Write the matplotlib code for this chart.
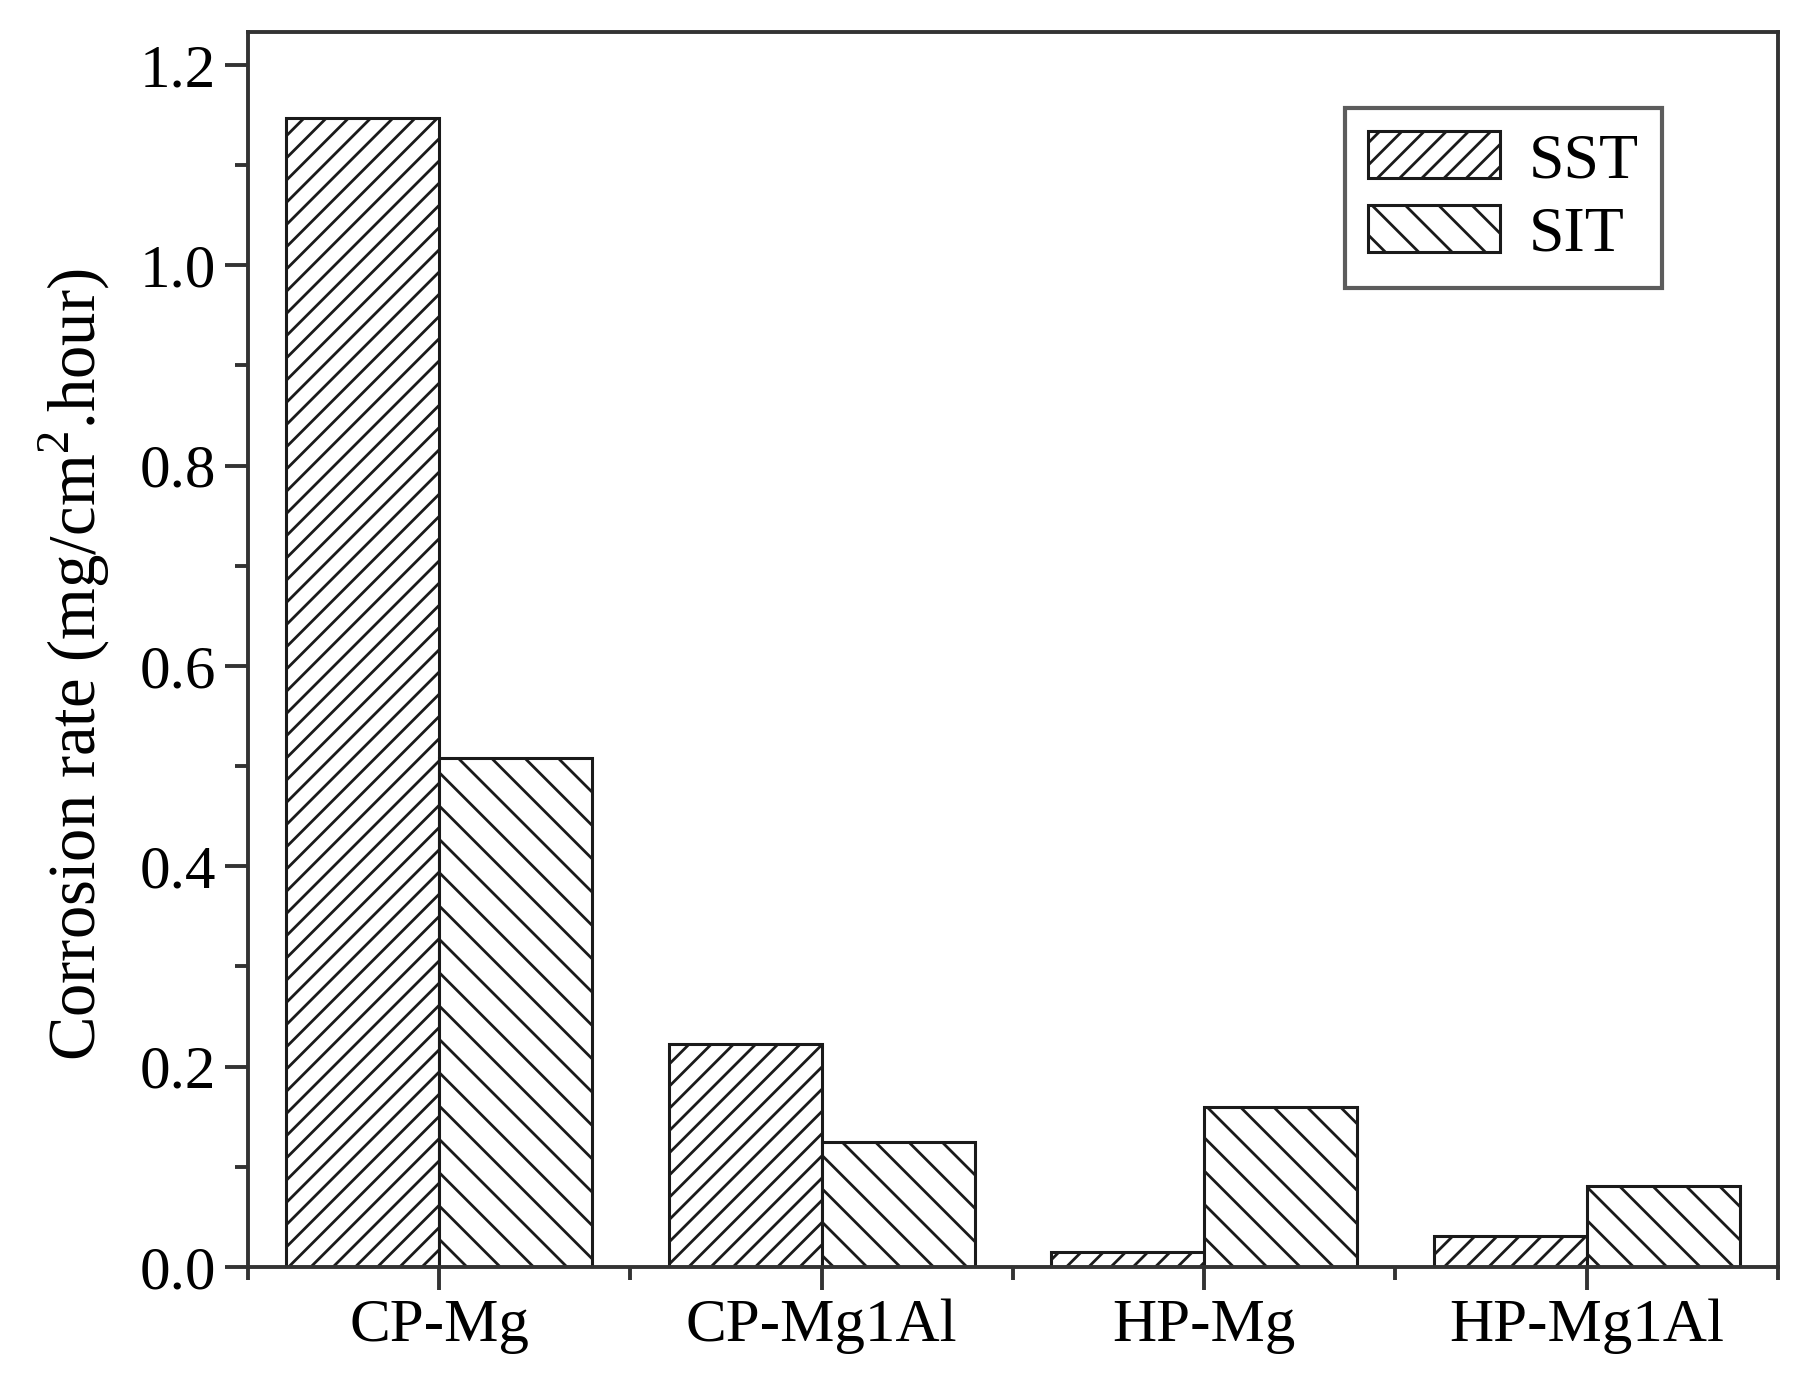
import numpy as np
import matplotlib
matplotlib.use("Agg")
import matplotlib.pyplot as plt
from matplotlib.ticker import MultipleLocator

# data
samples = ["CP-Mg", "CP-Mg1Al", "HP-Mg", "HP-Mg1Al"]
sst = [1.147, 0.223, 0.015, 0.031]
sit = [0.508, 0.125, 0.160, 0.081]
series_names = ["SST", "SIT"]

plt.rcParams["font.family"] = ["Liberation Serif", "DejaVu Serif"]
plt.rcParams["mathtext.fontset"] = "custom"
plt.rcParams["mathtext.rm"] = "Liberation Serif"
plt.rcParams["hatch.linewidth"] = 1.0

# hatch tile is one inch, so dpi sets the hatch spacing
DPI = 200
fig = plt.figure(figsize=(1807 / DPI, 1388 / DPI), dpi=DPI)
ax = fig.add_axes([0.1372, 0.0872, 0.8467, 0.8898])

x = np.arange(len(samples))
w = 0.4
ax.bar(x - w / 2, sst, w, color="white", edgecolor="#1a1a1a", linewidth=1.1,
       hatch="///", label=series_names[0])
ax.bar(x + w / 2, sit, w, color="white", edgecolor="#1a1a1a", linewidth=1.1,
       hatch="\\\\", label=series_names[1])

ax.set_xlim(-0.5, 3.5)
ax.set_ylim(0, 1.233)
ax.set_xticks(x)
ax.set_xticklabels(samples)
ax.xaxis.set_minor_locator(MultipleLocator(0.5))
ax.yaxis.set_major_locator(MultipleLocator(0.2))
ax.yaxis.set_minor_locator(MultipleLocator(0.1))
ax.yaxis.set_major_formatter(plt.FormatStrFormatter("%.1f"))

for s in ax.spines.values():
    s.set_linewidth(1.4)
    s.set_color("#333333")

ax.tick_params(which="major", direction="out", length=8.4, width=1.4,
               color="#333333", labelsize=22, pad=3)
ax.tick_params(which="minor", direction="out", length=4.6, width=1.4,
               color="#333333")
ax.tick_params(top=False, right=False, which="both")

ax.set_ylabel("Corrosion rate (mg/cm$^2$.hour)", fontsize=24, labelpad=10)
ax.yaxis.label.set_y(0.488)

leg = ax.legend(loc="upper right", bbox_to_anchor=(0.924, 0.938),
                borderaxespad=0, fontsize=23, frameon=True, fancybox=False,
                edgecolor="#333333", handlelength=2.07, handleheight=0.75,
                handletextpad=0.45, labelspacing=0.22, borderpad=0.36)
leg.get_frame().set_linewidth(1.5)

fig.savefig("out.png", dpi=DPI)
